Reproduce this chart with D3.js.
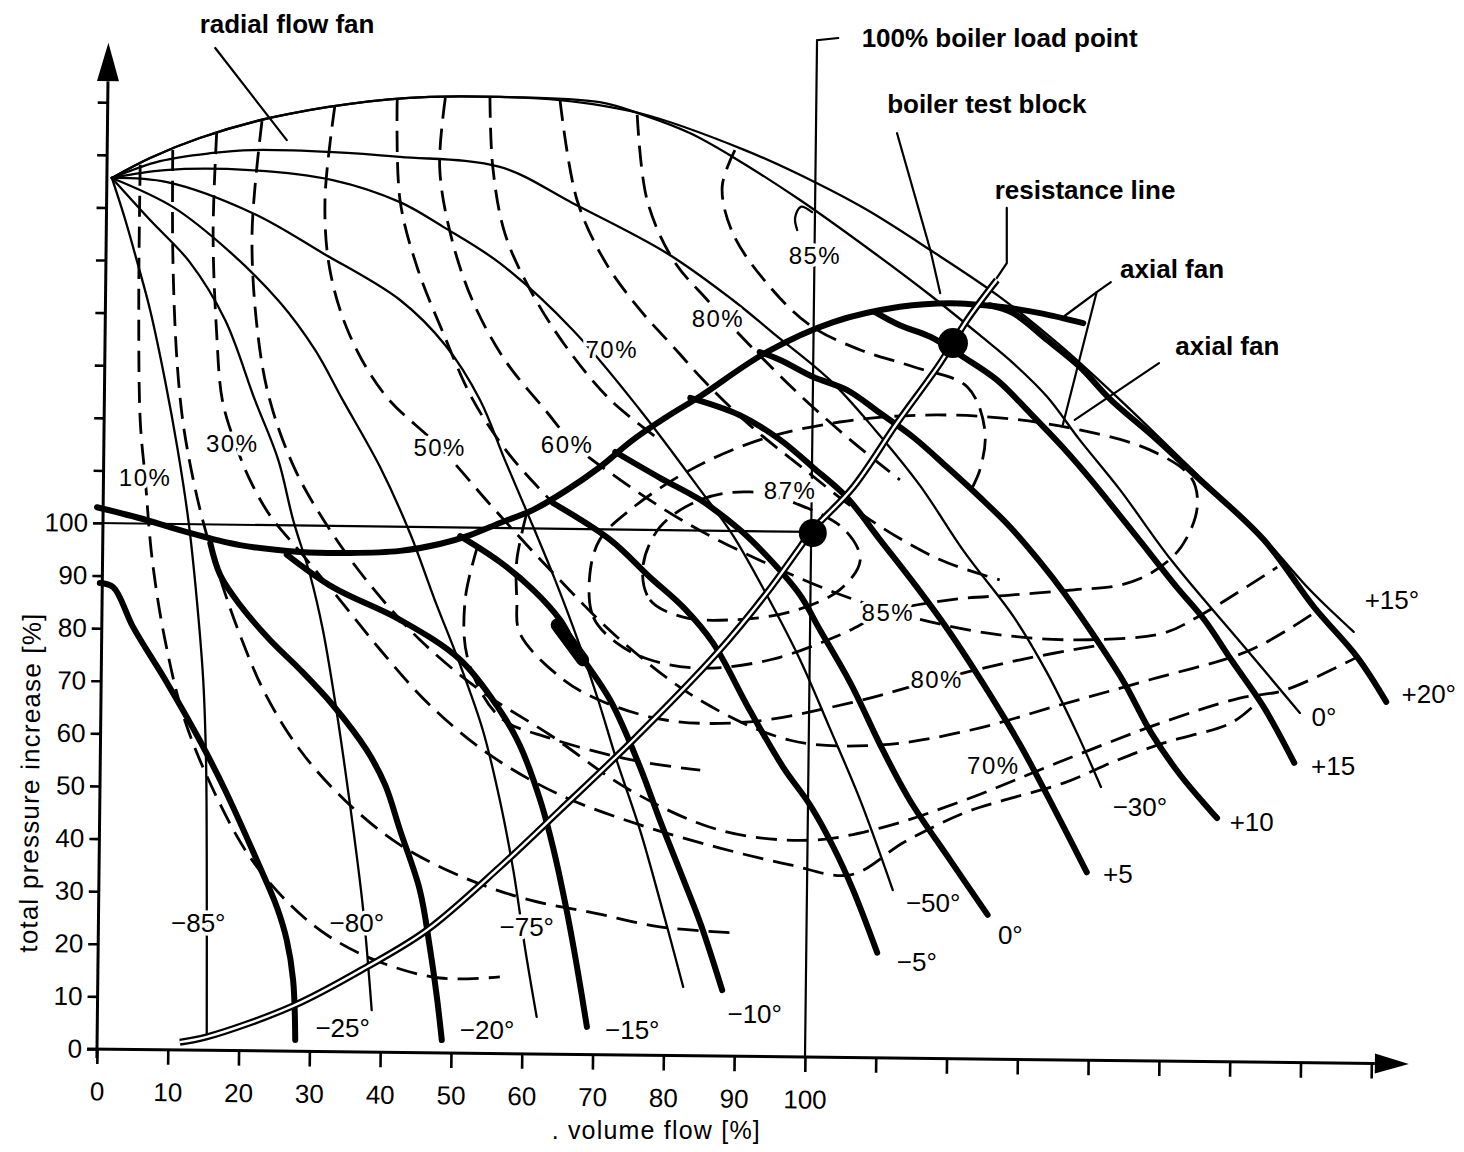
<!DOCTYPE html>
<html><head><meta charset="utf-8">
<script src="https://cdn.jsdelivr.net/npm/d3@7"></script>
<style>
body{margin:0;background:#fff;}
svg{display:block;background:#fff;}
text{font-family:"Liberation Sans",Arial,Helvetica,sans-serif;fill:#000;}
</style></head><body>
<svg id="chart" width="1464" height="1152"></svg>
<script>
// ---------------- DATA (volume flow %, total pressure increase %) ----------------
const xTicks = [0,10,20,30,40,50,60,70,80,90,100,110,120,130,140,150,160,170,180];
const yTicks = [0,10,20,30,40,50,60,70,80,90,100,110,120,130,140,150,160,170,180];
const labelledMax = 100;

// axial fan stall limit (envelope)
const stallLine = [[0,103.0],[6.1,100.9],[12.1,98.5],[20.2,95.8],[28.7,94.5],[35.7,94.3],[42.8,94.7],[48.4,96.0],[52.7,97.7],[56.9,100.0],[61.6,102.5],[66.4,106.3],[71.0,110.6],[75.7,115.8],[80.5,120.2],[85.2,124.1],[94.6,132.5],[104.0,138.2],[113.4,141.1],[120.5,141.8],[127.5,141.1],[133.2,139.9],[139.3,138.0]];

// axial fan blade-angle curves
const bladeM25 = [[0.4,88.6],[2.3,87.8],[5.1,80.2],[9.9,69.6],[14.5,58.7],[18.1,49.2],[23.0,34.6],[25.4,27.0],[26.8,20.7],[27.7,13.1],[28.0,1.7]];
const bladeM20 = [[16.0,96.2],[17.4,90.1],[20.2,84.4],[24.4,77.8],[28.7,72.1],[33.3,65.4],[38.1,56.8],[40.7,50.2],[42.8,41.6],[45.6,30.2],[47.0,19.4],[48.0,9.9],[48.7,1.7]];
const bladeM15 = [[26.8,94.0],[33.3,87.8],[42.8,81.6],[51.3,74.0],[56.9,64.4],[59.7,57.8],[62.6,47.3],[64.4,38.4],[66.4,25.9],[67.8,15.6],[69.2,4.2]];
const bladeM10 = [[51.3,97.5],[56.9,92.6],[61.6,87.3],[65.4,81.6],[67.8,75.9],[72.5,66.3],[76.7,53.6],[79.5,43.5],[82.3,34.0],[85.2,24.0],[88.3,11.2]];
const bladeM5  = [[64.4,103.8],[72.5,96.8],[78.1,89.7],[82.8,84.0],[87.0,77.2],[92.2,64.4],[96.9,53.6],[100.7,46.4],[104.0,38.4],[106.8,30.2],[110.2,18.3]];
const blade0   = [[73.2,113.5],[79.5,108.6],[85.2,104.4],[90.8,98.7],[95.1,93.0],[99.3,86.3],[102.1,79.7],[106.4,69.6],[111.0,56.8],[114.8,47.3],[120.5,35.9],[125.8,25.5]];
const bladeP5  = [[83.8,123.8],[90.8,120.5],[96.5,115.8],[101.1,110.6],[105.9,104.9],[110.6,96.8],[115.8,87.8],[120.5,79.1],[125.1,69.6],[130.4,57.8],[135.3,45.4],[139.8,33.6]];
const bladeP10 = [[93.6,132.5],[96.5,131.0],[101.1,127.8],[105.9,125.3],[110.6,120.9],[115.3,116.3],[120.1,110.6],[124.7,104.9],[129.0,99.2],[133.2,92.6],[136.6,86.7],[141.2,77.8],[145.1,69.6],[148.9,60.1],[153.0,52.1],[158.2,43.9]];
const bladeP15 = [[109.9,140.1],[113.4,137.6],[117.7,135.4],[122.3,131.6],[127.1,127.2],[131.8,120.9],[136.4,114.4],[140.4,108.2],[146.9,97.3],[152.5,87.8],[156.4,81.6],[160.2,74.0],[164.8,65.0],[169.1,54.4]];
const bladeP20 = [[126.1,141.4],[129.4,139.9],[134.2,134.8],[138.8,129.7],[143.2,123.4],[149.4,116.2],[155.4,108.7],[164.8,96.8],[171.9,84.0],[178.0,74.5],[182.1,66.0]];
const bladeBlob = [[65.0,80.6],[68.6,74.0]];

// radial flow fan vane-control curves (all from the shut-off point)
const vaneP15 = [[2.1,165.6],[7.5,169.4],[14.5,173.2],[24.4,177.0],[35.7,179.7],[47.0,181.0],[56.9,181.0],[65.4,180.4],[76.7,177.9],[91.5,170.9],[101.7,164.6],[108.8,159.5],[117.7,151.9],[127.5,143.0],[136.0,133.8],[144.5,123.4],[155.8,108.7],[165.0,96.8],[171.3,87.3],[177.5,79.3]];
const vane0   = [[2.1,165.6],[7.5,169.4],[14.5,173.2],[24.4,177.0],[35.7,179.7],[47.0,181.0],[56.9,181.0],[71.0,180.0],[77.1,177.6],[83.8,174.1],[89.8,169.6],[99.3,161.4],[109.2,151.9],[117.7,143.3],[124.7,135.7],[129.4,130.4],[134.2,124.0],[138.8,115.8],[144.5,106.3],[151.7,93.0],[162.4,75.9],[169.9,63.9]];
const vaneM30 = [[2.1,165.6],[8.9,168.8],[16.0,170.3],[22.0,170.9],[33.3,170.5],[42.8,169.6],[56.9,167.7],[67.2,160.8],[80.5,151.3],[89.8,142.4],[95.5,136.1],[103.5,127.2],[109.9,117.7],[116.2,107.2],[122.5,94.5],[129.5,82.1],[134.2,71.5],[138.4,60.1],[141.8,49.8]];
const vaneM50 = [[2.1,165.6],[9.6,167.1],[21.6,167.1],[33.3,165.2],[42.8,161.0],[48.9,156.3],[56.9,149.4],[67.2,136.7],[76.7,121.5],[85.2,106.3],[89.8,97.7],[94.6,86.3],[99.3,74.0],[103.5,61.0],[107.8,47.3],[112.4,30.2]];
const vaneM65 = [[2.1,165.6],[9.9,164.8],[22.0,158.9],[31.9,151.3],[42.8,142.4],[49.2,133.8],[54.1,123.4],[57.6,112.0],[61.2,100.6],[64.7,89.2],[67.9,77.8],[70.8,66.3],[73.4,54.9],[76.7,41.6],[79.5,28.3],[82.8,11.8]];
const vaneM75 = [[2.1,165.6],[10.7,160.1],[18.8,151.5],[25.8,142.0],[30.8,132.9],[34.7,123.4],[40.0,110.6],[44.2,98.1],[47.7,85.4],[51.3,73.0],[54.5,60.6],[56.9,47.3],[58.8,34.0],[60.5,18.8],[62.1,6.1]];
const vaneM80 = [[2.1,165.6],[7.5,157.6],[13.1,149.6],[18.1,138.6],[22.3,123.4],[25.6,112.0],[27.7,100.6],[30.1,90.1],[31.9,79.7],[33.6,66.3],[35.0,53.6],[36.4,39.7],[37.6,26.4],[38.8,7.4]];
const vaneM85 = [[2.1,165.6],[4.0,157.6],[5.6,150.0],[7.5,140.5],[9.6,127.2],[11.4,113.9],[12.9,100.6],[14.1,85.4],[15.0,70.2],[15.4,54.9],[15.5,35.9],[15.5,2.7]];

// radial fan efficiency contours (dashed)
const effR10 = [[6.1,168.1],[5.9,142.4],[6.1,119.6],[6.8,108.6],[7.8,93.0],[9.6,77.8],[12.4,62.5],[16.9,47.9],[21.6,36.5],[27.3,27.4],[32.9,21.3],[40.0,16.5],[48.4,13.5],[56.9,13.7]];
const effR20 = [[10.7,170.9],[10.7,151.9],[11.2,132.9],[12.1,119.6],[13.6,108.2],[15.3,98.7],[17.7,88.2],[20.2,78.7],[23.7,67.7],[28.7,56.8],[35.0,47.3],[42.8,38.8],[52.7,32.1],[61.2,28.3],[70.1,25.9],[79.5,23.2],[89.8,22.1]];
const effR30 = [[16.9,174.1],[16.4,155.1],[16.9,136.1],[17.7,123.4],[19.5,115.2],[21.6,108.2],[24.4,101.5],[28.7,94.5],[34.3,85.4],[40.0,75.9],[47.0,65.4],[55.5,55.9],[65.4,48.3],[76.7,42.6],[88.0,38.2],[97.9,35.0],[106.4,33.1],[114.1,39.4],[122.5,44.9],[128.1,47.3],[136.6,50.6],[144.1,54.9],[150.7,58.2],[160.2,62.0],[163.8,65.8]];
const effR40 = [[23.3,176.4],[21.9,155.1],[22.7,136.1],[24.4,123.4],[28.0,110.1],[32.9,98.7],[38.6,88.2],[45.6,77.8],[54.1,68.2],[64.0,59.7],[75.3,49.2],[88.0,41.6],[100.7,39.7],[110.6,42.0],[122.5,47.3],[136.0,54.6],[150.7,62.2],[161.4,66.7],[167.7,68.2],[178.0,74.5]];
const effR50 = [[33.6,179.3],[32.2,161.4],[32.9,148.1],[35.7,135.7],[40.7,124.3],[48.4,114.4],[56.2,102.5],[64.7,90.1],[73.9,77.8],[85.2,66.3],[97.9,58.7],[110.6,57.8],[123.3,60.6],[136.0,65.4],[148.7,70.2],[163.0,75.9],[171.9,82.9]];
const effR55 = [[42.4,180.4],[42.8,161.4],[45.2,148.7],[48.9,136.1],[53.1,123.4],[58.3,112.9],[64.7,103.4]];
const effR60 = [[49.2,180.8],[48.4,167.7],[49.9,155.1],[53.0,142.4],[57.6,131.0],[63.3,121.5],[67.5,114.8],[73.9,108.2],[83.8,99.6],[95.1,92.0],[106.4,85.7],[117.7,81.2],[129.0,78.5],[140.3,77.8],[150.7,79.1],[155.4,82.1],[166.7,91.6]];
const effR65 = [[55.5,181.0],[55.9,167.7],[57.6,155.1],[61.2,144.3],[66.1,133.8],[72.5,123.4],[79.5,115.8]];
const effR70 = [[65.4,180.4],[67.8,161.4],[71.8,149.6],[76.7,140.5],[81.2,133.8],[85.9,126.8],[92.2,118.6],[100.0,110.1],[109.2,100.6],[119.1,93.0],[127.5,89.2]];
const effR80 = [[76.3,177.6],[77.7,161.4],[81.4,150.0],[86.2,142.4],[92.2,133.8],[99.3,124.3],[106.4,115.8],[113.4,108.2]];
const effR85 = [[90.1,170.9],[88.3,163.9],[89.8,155.1],[94.6,145.6],[100.7,137.6],[107.8,132.9],[115.3,129.7],[122.9,125.9],[125.4,117.7],[124.7,110.1],[122.9,104.9]];
const effR85curl = [[101.0,159.1],[99.4,160.1],[98.6,158.0],[98.9,155.7]];

// axial fan efficiency contours (dashed)
const effA87 = [[77.1,91.6],[78.1,85.4],[82.8,82.1],[89.8,81.6],[97.9,83.1],[104.9,87.3],[107.8,93.0],[105.6,98.7],[99.3,103.4],[92.2,105.9],[85.2,104.4],[79.5,99.2]];
const effA85 = [[69.6,90.1],[70.1,82.1],[73.4,77.2],[78.1,74.0],[85.2,72.4],[95.1,74.0],[104.9,78.7],[111.7,83.1],[120.5,85.4],[129.0,86.3],[138.0,87.3],[144.5,88.2],[148.9,90.5],[153.1,95.4],[155.4,103.0],[154.5,108.7],[148.7,113.9],[138.8,117.7],[127.5,120.0],[116.2,120.5],[104.9,119.2],[93.6,115.8],[83.8,110.1],[75.3,102.5],[71.0,96.8]];
const effA80 = [[60.7,101.9],[59.3,93.0],[59.3,85.4],[59.7,79.1],[65.4,70.7],[71.0,66.3],[80.5,62.5],[92.2,62.2],[106.4,65.8],[118.6,70.2],[130.4,74.0],[141.7,76.8]];
const effA70 = [[53.8,95.8],[52.0,85.4],[52.4,74.0],[56.9,63.1],[64.0,59.1],[75.7,54.9],[85.2,53.0]];

// system resistance line and operating points
const resistanceLine = [[11.7,1.3],[15.5,2.3],[27.7,8.2],[38.1,15.6],[46.6,22.6],[56.9,34.6],[65.4,45.4],[75.7,58.7],[87.6,75.3],[94.6,86.7],[99.3,95.4],[101.1,98.7],[106.8,106.8],[113.0,119.0],[119.1,130.4],[122.9,138.6],[127.1,146.2]];
const loadPoint = [101.1,98.1];
const testPoint = [120.9,134.2];
const refHorizontal = [[0,100],[101.1,98.3]];
const refVertical = [[100,-1.5],[101.7,191.8],[104.7,192.2]];

// leaders for annotations
const leaderRadial = [[16.7,190.3],[26.8,172.8]];
const leaderTest = [[113.0,174.1],[117.7,151.9],[119.1,143.7]];
const leaderResist = [[128.5,159.9],[128.5,149.4],[127.1,146.6]];
const leaderAxial1a = [[143.2,145.8],[141.2,143.9],[136.7,139.4]];
const leaderAxial1b = [[141.2,143.9],[136.4,118.6]];
const leaderAxial2 = [[150.0,130.4],[138.1,119.6]];

// labels
const annotations = [
  ["radial flow fan",14.5,193.2],["100% boiler load point",108.0,190.5],
  ["boiler test block",111.6,177.9],["resistance line",126.8,161.6],
  ["axial fan",144.5,146.6],["axial fan",152.3,131.9]
];
const effLabels = [
  ["10%",6.8,108.7],["30%",19.1,115.2],["50%",48.4,114.4],["60%",66.4,115.0],
  ["70%",72.7,133.1],["80%",87.7,139.0],["85%",101.4,150.8],
  ["87%",97.9,106.3],["85%",111.7,83.1],["80%",118.6,70.2],["70%",126.6,54.0]
];
const angleLabels = [
  ["−85°",14.3,24.0],["−80°",36.7,24.0],["−75°",60.7,23.2],["−50°",118.1,27.8],
  ["−30°",147.3,46.0],["0°",173.3,63.1],["+15°",182.9,85.4],
  ["−25°",34.7,4.0],["−20°",55.1,3.6],["−15°",75.6,3.6],["−10°",92.9,6.8],
  ["−5°",115.8,16.7],["0°",129.0,21.7],["+5",144.2,33.3],["+10",163.1,43.2],
  ["+15",174.6,53.8],["+20°",188.1,67.5]
];
const yTitle = "total pressure increase  [%]";
const xTitle = ". volume flow  [%]";

// ---------------- DRAWING ----------------
const svg = d3.select("#chart");
const x = d3.scaleLinear().domain([0,100]).range([97,805]);
const y = d3.scaleLinear().domain([0,100]).range([1049,523]);

const line = d3.line().x(d=>x(d[0])).y(d=>y(d[1])).curve(d3.curveCatmullRom.alpha(0.5));
const lineLin = d3.line().x(d=>x(d[0])).y(d=>y(d[1]));
const lineClosed = d3.line().x(d=>x(d[0])).y(d=>y(d[1])).curve(d3.curveCatmullRomClosed.alpha(0.5));

const gDash = svg.append("g").attr("fill","none").attr("stroke","#000")
  .attr("stroke-width",2.8).attr("stroke-dasharray","21 10").attr("stroke-linecap","butt");
[effR10,effR20,effR30,effR40,effR50,effR55,effR60,effR65,effR70,effR80,effR85,effA80,effA70]
  .forEach(d=>gDash.append("path").attr("d",line(d)));
[effA87,effA85].forEach(d=>gDash.append("path").attr("d",lineClosed(d)));

const gThin = svg.append("g").attr("fill","none").attr("stroke","#000").attr("stroke-width",2.3).attr("stroke-linecap","round");
[vaneP15,vane0,vaneM30,vaneM50,vaneM65,vaneM75,vaneM80,vaneM85,effR85curl].forEach(d=>gThin.append("path").attr("d",line(d)));
[refHorizontal,refVertical,leaderRadial,leaderTest,leaderResist,leaderAxial1a,leaderAxial1b,leaderAxial2]
  .forEach(d=>gThin.append("path").attr("d",lineLin(d)).attr("stroke-width",2.2));

const gThick = svg.append("g").attr("fill","none").attr("stroke","#000").attr("stroke-width",6).attr("stroke-linecap","round").attr("stroke-linejoin","round");
[stallLine,bladeM25,bladeM20,bladeM15,bladeM10,bladeM5,blade0,bladeP5,bladeP10,bladeP15,bladeP20]
  .forEach(d=>gThick.append("path").attr("d",line(d)));
gThick.append("path").attr("d",lineLin(bladeBlob)).attr("stroke-width",13);

// double resistance line
svg.append("path").attr("d",line(resistanceLine)).attr("fill","none").attr("stroke","#000").attr("stroke-width",7);
svg.append("path").attr("d",line(resistanceLine)).attr("fill","none").attr("stroke","#fff").attr("stroke-width",2.4);

// operating points
[[loadPoint,14],[testPoint,15]].forEach(([p,r])=>{
  svg.append("circle").attr("cx",x(p[0])).attr("cy",y(p[1])).attr("r",r).attr("fill","#000");
});

// labels with white halo (gaps in lines behind)
function halo(sel,w){ return sel.attr("stroke","#fff").attr("stroke-width",w).attr("stroke-linejoin","round").attr("paint-order","stroke"); }
const gLab = svg.append("g");
effLabels.forEach(([t,a,b])=>{
  halo(gLab.append("text").attr("x",x(a)).attr("y",y(b)).attr("dy","0.36em")
    .attr("text-anchor","middle").attr("font-size",24).attr("letter-spacing",1.5).text(t),7);
});
angleLabels.forEach(([t,a,b])=>{
  halo(gLab.append("text").attr("x",x(a)).attr("y",y(b)).attr("dy","0.36em")
    .attr("text-anchor","middle").attr("font-size",26).text(t),7);
});
annotations.forEach(([t,a,b])=>{
  gLab.append("text").attr("x",x(a)).attr("y",y(b)).attr("font-size",26).attr("font-weight","bold").text(t);
});

// axes (slightly skewed like the scanned original)
const gAx = svg.append("g").attr("transform",`rotate(0.65,${x(0)},${y(0)})`);
const xAxis = d3.axisBottom(x).tickValues(xTicks).tickSize(15).tickPadding(18)
  .tickFormat(d=>d<=labelledMax?d:"");
const yAxis = d3.axisLeft(y).tickValues(yTicks).tickSize(10).tickPadding(5)
  .tickFormat(d=>d<=labelledMax?d:"");
const gx = gAx.append("g").attr("transform",`translate(0,${y(0)})`).call(xAxis);
const gy = gAx.append("g").attr("transform",`translate(${x(0)},0)`).call(yAxis);
[gx,gy].forEach(g=>{
  g.select(".domain").remove();
  g.selectAll(".tick line").attr("stroke","#000").attr("stroke-width",2.6);
  g.selectAll(".tick text").attr("font-size",26).attr("fill","#000")
    .attr("font-family","'Liberation Sans',Arial,sans-serif");
});
const yTop = 191.3, yArrowBase = 184.0, xTip = 185.3, xArrowBase = 180.5;
gAx.append("line").attr("x1",x(0)).attr("x2",x(0)).attr("y1",y(-1.7)).attr("y2",y(yArrowBase))
  .attr("stroke","#000").attr("stroke-width",3);
gAx.append("line").attr("x1",x(-1.4)).attr("x2",x(xArrowBase)).attr("y1",y(0)).attr("y2",y(0))
  .attr("stroke","#000").attr("stroke-width",3);
gAx.append("path").attr("fill","#000")
  .attr("d",`M${x(0)},${y(yTop)}L${x(0)-11},${y(yArrowBase)}L${x(0)+11},${y(yArrowBase)}Z`);
gAx.append("path").attr("fill","#000")
  .attr("d",`M${x(xTip)},${y(0)}L${x(xArrowBase)},${y(0)-10}L${x(xArrowBase)},${y(0)+10}Z`);

gAx.append("text").attr("transform",`translate(${x(0)-61},${y(50.5)}) rotate(-90)`)
  .attr("text-anchor","middle").attr("font-size",26).attr("letter-spacing",1.2).text(yTitle);
svg.append("text").attr("x",x(79.0)).attr("y",y(0)+90)
  .attr("text-anchor","middle").attr("font-size",25).attr("letter-spacing",1.2).text(xTitle);
</script>
</body></html>
